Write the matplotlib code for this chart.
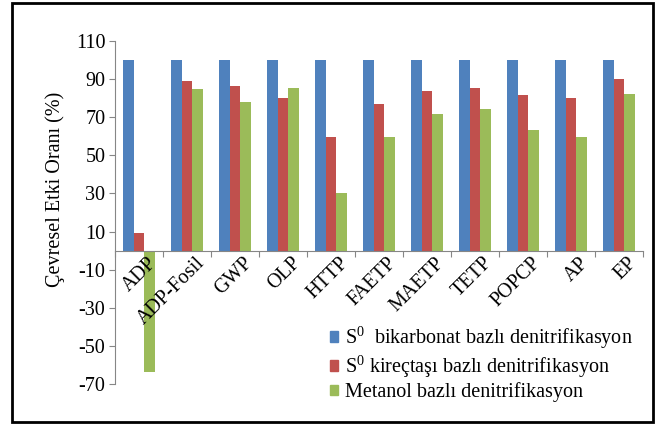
import numpy as np
import matplotlib
matplotlib.use("Agg")
import matplotlib.pyplot as plt
import matplotlib.transforms as mtransforms
from matplotlib.patches import Rectangle, Patch

plt.rcParams['font.family'] = ['Liberation Serif', 'DejaVu Serif']
plt.rcParams['mathtext.fontset'] = 'custom'
plt.rcParams['mathtext.rm'] = 'Liberation Serif'
plt.rcParams['axes.unicode_minus'] = False

categories = ['ADP', 'ADP-Fosil', 'GWP', 'OLP', 'HTTP', 'FAETP',
              'MAETP', 'TETP', 'POPCP', 'AP', 'EP']
bikarbonat = [100, 100, 100, 100, 100, 100, 100, 100, 100, 100, 100]
kirectasi = [9, 89, 86.5, 80, 59.5, 77, 84, 85.5, 81.5, 80, 90]
metanol = [-63.5, 85, 78, 85.5, 30, 59.5, 71.5, 74.5, 63.5, 59.5, 82]
series_names = ['$\\mathrm{S}^{0}$  bikarbonat bazlı denitrifikasyon',
                '$\\mathrm{S}^{0}$ kireçtaşı bazlı denitrifikasyon',
                'Metanol bazlı denitrifikasyon']
colors = ['#4F81BD', '#C0504D', '#9BBB59']
fs = 14.5

fig = plt.figure(figsize=(6.6, 4.25), dpi=100)
ax = fig.add_axes([115/660, 1 - 384/425, (643 - 115)/660, (384 - 41)/425])

x = np.arange(len(categories))
w = 0.22
for i, vals in enumerate([bikarbonat, kirectasi, metanol]):
    ax.bar(x + (i - 1) * w, vals, width=w, color=colors[i], edgecolor='none')

ax.set_xlim(-0.5, len(categories) - 0.5)
ax.set_ylim(-70, 110)
ax.set_yticks(np.arange(-70, 111, 20))
ax.tick_params(axis='y', labelsize=fs, length=4, color='#868686', pad=3)

ax.spines['bottom'].set_position(('data', 0))
for s in ['top', 'right']:
    ax.spines[s].set_visible(False)
for s in ['left', 'bottom']:
    ax.spines[s].set_color('#868686')

ax.set_xticks(np.arange(-0.5, len(categories), 1.0))
ax.set_xticklabels([])
ax.tick_params(axis='x', length=4, color='#868686')
offset = mtransforms.ScaledTranslation(8/100, -3/100, fig.dpi_scale_trans)
for xi, lab in zip(x, categories):
    ax.text(xi, 0, lab, rotation=45, ha='right', va='top', rotation_mode='anchor',
            fontsize=fs, transform=ax.transData + offset)

ax.set_ylabel('Çevresel Etki Oranı (%)', fontsize=fs)
ax.yaxis.set_label_coords(-0.095, 0.568)

handles = [Patch(color=c) for c in colors]
fig.legend(handles, series_names, loc='upper left', bbox_to_anchor=(322/660, 1 - 316/425),
           frameon=False, fontsize=fs, handlelength=0.4, handleheight=0.4,
           handletextpad=0.35, labelspacing=0.1, borderaxespad=0)

fig.patches.append(Rectangle((12/660, 3/425), (653 - 12)/660, (422 - 3)/425,
                             transform=fig.transFigure, fill=False,
                             edgecolor='black', linewidth=2))

fig.savefig('out.png', dpi=100)
